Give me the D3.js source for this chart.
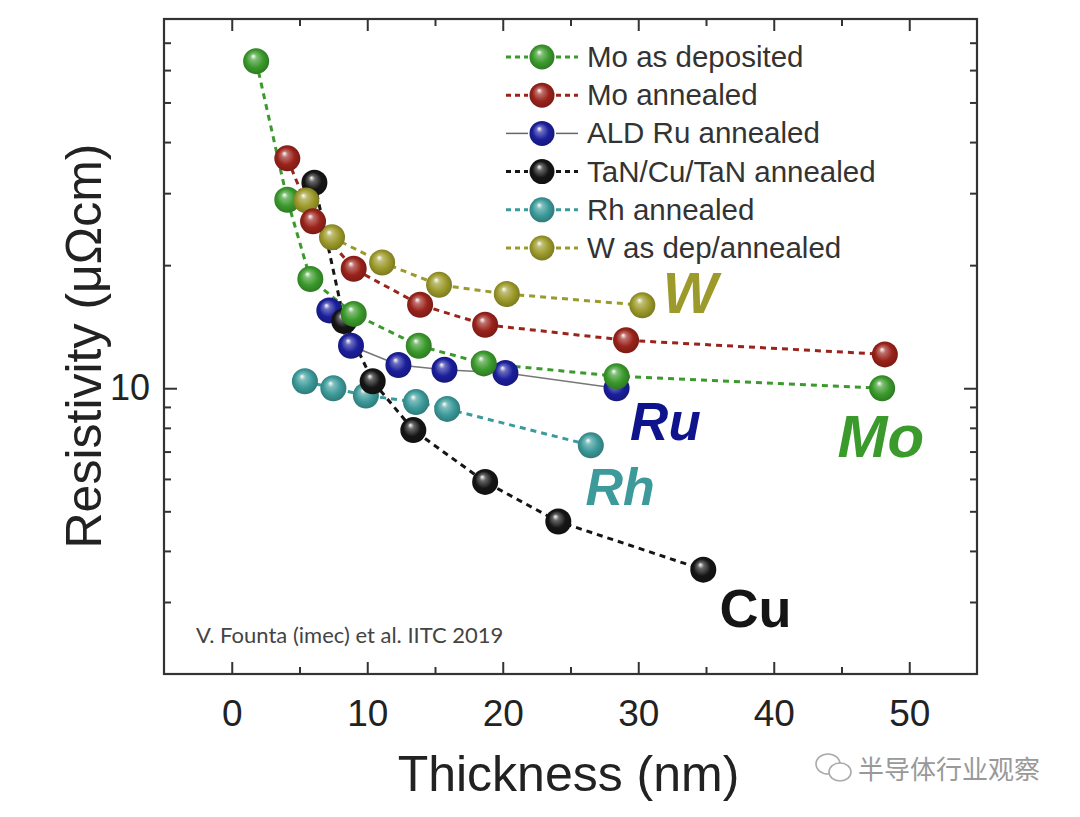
<!DOCTYPE html>
<html>
<head>
<meta charset="utf-8">
<script src="https://cdn.jsdelivr.net/npm/d3@7"></script>
<style>
  body { margin: 0; background: #fff; }
  text { font-family: "Liberation Sans", Arial, sans-serif; }
</style>
</head>
<body>
<div id="chart"></div>
<script>
// series, in legend order
var seriesNames = ["Mo as deposited", "Mo annealed", "ALD Ru annealed", "TaN/Cu/TaN annealed", "Rh annealed", "W as dep/annealed"];
var seriesColors = ["#3b9a2c", "#9a231b", "#1b1f9c", "#151515", "#3c9a9a", "#9c9a2a"];
var seriesTags = ["Mo", "", "Ru", "Cu", "Rh", "W"];

// thickness (nm) / resistivity (uOhm cm)
var moDepThick = [1.8, 4.1, 5.8, 9.0, 13.8, 18.6, 28.4, 48.0];
var moDepRho   = [63.1, 28.9, 18.5, 15.2, 12.7, 11.5, 10.7, 10.0];
var moAnnThick = [4.1, 6.0, 9.0, 13.9, 18.7, 29.1, 48.2];
var moAnnRho   = [36.5, 25.6, 19.6, 16.0, 14.3, 13.1, 12.1];
var ruThick = [7.2, 8.8, 12.3, 15.7, 20.2, 28.4];
var ruRho   = [15.5, 12.7, 11.4, 11.1, 10.9, 10.0];
var cuThick = [6.1, 8.3, 10.4, 13.4, 18.7, 24.1, 34.8];
var cuRho   = [31.8, 14.6, 10.4, 7.9, 5.9, 4.72, 3.6];
var rhThick = [5.4, 7.5, 9.9, 13.6, 15.9, 26.5];
var rhRho   = [10.4, 10.0, 9.6, 9.25, 8.9, 7.25];
var wThick = [5.5, 7.4, 11.1, 15.3, 20.3, 30.3];
var wRho   = [28.8, 23.4, 20.3, 17.9, 17.0, 15.96];

var xTicks = [0, 10, 20, 30, 40, 50];
var xMinorTicks = [5, 15, 25, 35, 45];
var yTicks = [10];
var yMinorTicks = [3, 4, 5, 6, 7, 8, 9, 20, 30, 40, 50, 60, 70];

var W = 1080, H = 817;
var margin = {top: 19, right: 103, bottom: 143, left: 164};

var thick = [moDepThick, moAnnThick, ruThick, cuThick, rhThick, wThick];
var rho = [moDepRho, moAnnRho, ruRho, cuRho, rhRho, wRho];
var series = seriesNames.map(function(n, i) {
  return {name: n, color: seriesColors[i], idx: i,
    pts: thick[i].map(function(t, j) { return {t: t, r: rho[i][j]}; })};
});

var svg = d3.select("#chart").append("svg")
    .attr("width", W).attr("height", H);

var x = d3.scaleLinear().domain([-5, 55]).range([margin.left, W - margin.right]);
var y = d3.scaleLog().domain([2, 80]).range([H - margin.bottom, margin.top]);

// shiny ball gradients
var defs = svg.append("defs");
seriesColors.forEach(function(c, i) {
  var g = defs.append("radialGradient").attr("id", "ball" + i)
      .attr("cx", "50%").attr("cy", "50%").attr("r", "55%")
      .attr("fx", "38%").attr("fy", "30%");
  g.append("stop").attr("offset", "0%").attr("stop-color", "#ffffff");
  g.append("stop").attr("offset", "22%").attr("stop-color", d3.interpolateRgb(c, "#fff")(0.35));
  g.append("stop").attr("offset", "60%").attr("stop-color", c);
  g.append("stop").attr("offset", "100%").attr("stop-color", d3.color(c).darker(0.8));
});

// axes, ticks pointing inward on all four sides
var plotB = H - margin.bottom, plotR = W - margin.right;
function styleAxis(g) {
  g.select(".domain").remove();
  g.selectAll(".tick line").attr("stroke", "#333").attr("stroke-width", 2);
  g.selectAll(".tick text").attr("fill", "#222")
    .style("font-family", "Liberation Sans, Arial, sans-serif");
}
svg.append("g").attr("transform", "translate(0," + plotB + ")")
  .call(d3.axisBottom(x).tickValues(xTicks).tickSize(-12).tickPadding(26).tickFormat(d3.format("d")))
  .call(styleAxis).selectAll("text").style("font-size", "37px");
svg.append("g").attr("transform", "translate(0," + plotB + ")")
  .call(d3.axisBottom(x).tickValues(xMinorTicks).tickSize(-7).tickFormat(""))
  .call(styleAxis);
svg.append("g").attr("transform", "translate(0," + margin.top + ")")
  .call(d3.axisTop(x).tickValues(xTicks).tickSize(-12).tickFormat(""))
  .call(styleAxis);
svg.append("g").attr("transform", "translate(0," + margin.top + ")")
  .call(d3.axisTop(x).tickValues(xMinorTicks).tickSize(-7).tickFormat(""))
  .call(styleAxis);
svg.append("g").attr("transform", "translate(" + margin.left + ",0)")
  .call(d3.axisLeft(y).tickValues(yTicks).tickSize(-13).tickPadding(14).tickFormat(d3.format("d")))
  .call(styleAxis).selectAll("text").style("font-size", "36px");
svg.append("g").attr("transform", "translate(" + margin.left + ",0)")
  .call(d3.axisLeft(y).tickValues(yMinorTicks).tickSize(-7).tickFormat(""))
  .call(styleAxis);
svg.append("g").attr("transform", "translate(" + plotR + ",0)")
  .call(d3.axisRight(y).tickValues(yTicks).tickSize(-13).tickFormat(""))
  .call(styleAxis);
svg.append("g").attr("transform", "translate(" + plotR + ",0)")
  .call(d3.axisRight(y).tickValues(yMinorTicks).tickSize(-7).tickFormat(""))
  .call(styleAxis);

// frame
svg.append("rect")
  .attr("x", margin.left).attr("y", margin.top)
  .attr("width", plotR - margin.left).attr("height", plotB - margin.top)
  .attr("fill", "none").attr("stroke", "#333").attr("stroke-width", 2.2);

// axis titles
svg.append("text")
  .attr("x", (margin.left + plotR) / 2 - 2).attr("y", 791)
  .attr("text-anchor", "middle").attr("fill", "#222")
  .style("font-size", "50px").text("Thickness (nm)");
svg.append("text")
  .attr("transform", "translate(101,346) rotate(-90)")
  .attr("text-anchor", "middle").attr("fill", "#222")
  .style("font-size", "50px").text("Resistivity (\u03bc\u03a9cm)");

// connecting lines
var line = d3.line().x(function(d) { return x(d.t); }).y(function(d) { return y(d.r); });
var drawOrder = [2, 4, 3, 0, 5, 1];
drawOrder.forEach(function(i) {
  var s = series[i];
  var ru = i === 2;
  svg.append("path")
    .datum(s.pts)
    .attr("d", line)
    .attr("fill", "none")
    .attr("stroke", ru ? "#777" : s.color)
    .attr("stroke-width", ru ? 1.5 : 3)
    .attr("stroke-dasharray", ru ? null : "6,5");
});

// balls
drawOrder.forEach(function(i) {
  var s = series[i];
  svg.append("g").selectAll("circle")
    .data(s.pts)
    .enter().append("circle")
    .attr("cx", function(d) { return x(d.t); })
    .attr("cy", function(d) { return y(d.r); })
    .attr("r", 13)
    .attr("fill", "url(#ball" + i + ")");
});

// big series tags next to the curves (anchored in data units)
var tagPos = {0: [44.7, 6.79, "italic", 60], 2: [29.4, 7.47, "italic", 53], 3: [36.0, 2.61, "normal", 54],
              4: [26.1, 5.18, "italic", 52], 5: [31.8, 15.3, "italic", 58]};
Object.keys(tagPos).forEach(function(k) {
  var p = tagPos[k];
  svg.append("text")
    .attr("x", x(p[0])).attr("y", y(p[1]))
    .attr("fill", k == 2 ? "#10148c" : seriesColors[k])
    .style("font-size", p[3] + "px").style("font-weight", "bold").style("font-style", p[2])
    .text(seriesTags[k]);
});

// legend
var legend = svg.append("g").attr("transform", "translate(542,57)");
var row = legend.selectAll("g").data(series).enter().append("g")
  .attr("transform", function(d, i) { return "translate(0," + (i * 38.2) + ")"; });
row.each(function(d) {
  var g = d3.select(this);
  var ru = d.idx === 2;
  [[-36, -14], [14, 36]].forEach(function(seg) {
    g.append("line").attr("x1", seg[0]).attr("x2", seg[1]).attr("y1", 0).attr("y2", 0)
      .attr("stroke", ru ? "#666" : d.color).attr("stroke-width", ru ? 1.5 : 3)
      .attr("stroke-dasharray", ru ? null : "5,4");
  });
  g.append("circle").attr("r", 12.5).attr("fill", "url(#ball" + d.idx + ")");
  g.append("text").attr("x", 45).attr("y", 10).attr("fill", "#333")
    .style("font-size", "29.5px").text(d.name);
});

// citation
svg.append("text")
  .attr("x", 196).attr("y", 643).attr("fill", "#444")
  .style("font-family", "Lato, sans-serif").style("font-size", "22px")
  .text("V. Founta (imec) et al. IITC 2019");

// watermark
var wm = svg.append("g").attr("transform", "translate(832,768)").attr("fill", "none").attr("stroke", "#aaa").attr("stroke-width", 1.6);
wm.append("ellipse").attr("cx", -4).attr("cy", -4).attr("rx", 12).attr("ry", 10);
wm.append("ellipse").attr("cx", 8).attr("cy", 4).attr("rx", 11).attr("ry", 9).attr("fill", "#fff");
svg.append("text")
  .attr("x", 858).attr("y", 779).attr("fill", "#999")
  .style("font-family", "Noto Sans CJK SC, sans-serif").style("font-size", "26px")
  .text("\u534a\u5bfc\u4f53\u884c\u4e1a\u89c2\u5bdf");
</script>
</body>
</html>
